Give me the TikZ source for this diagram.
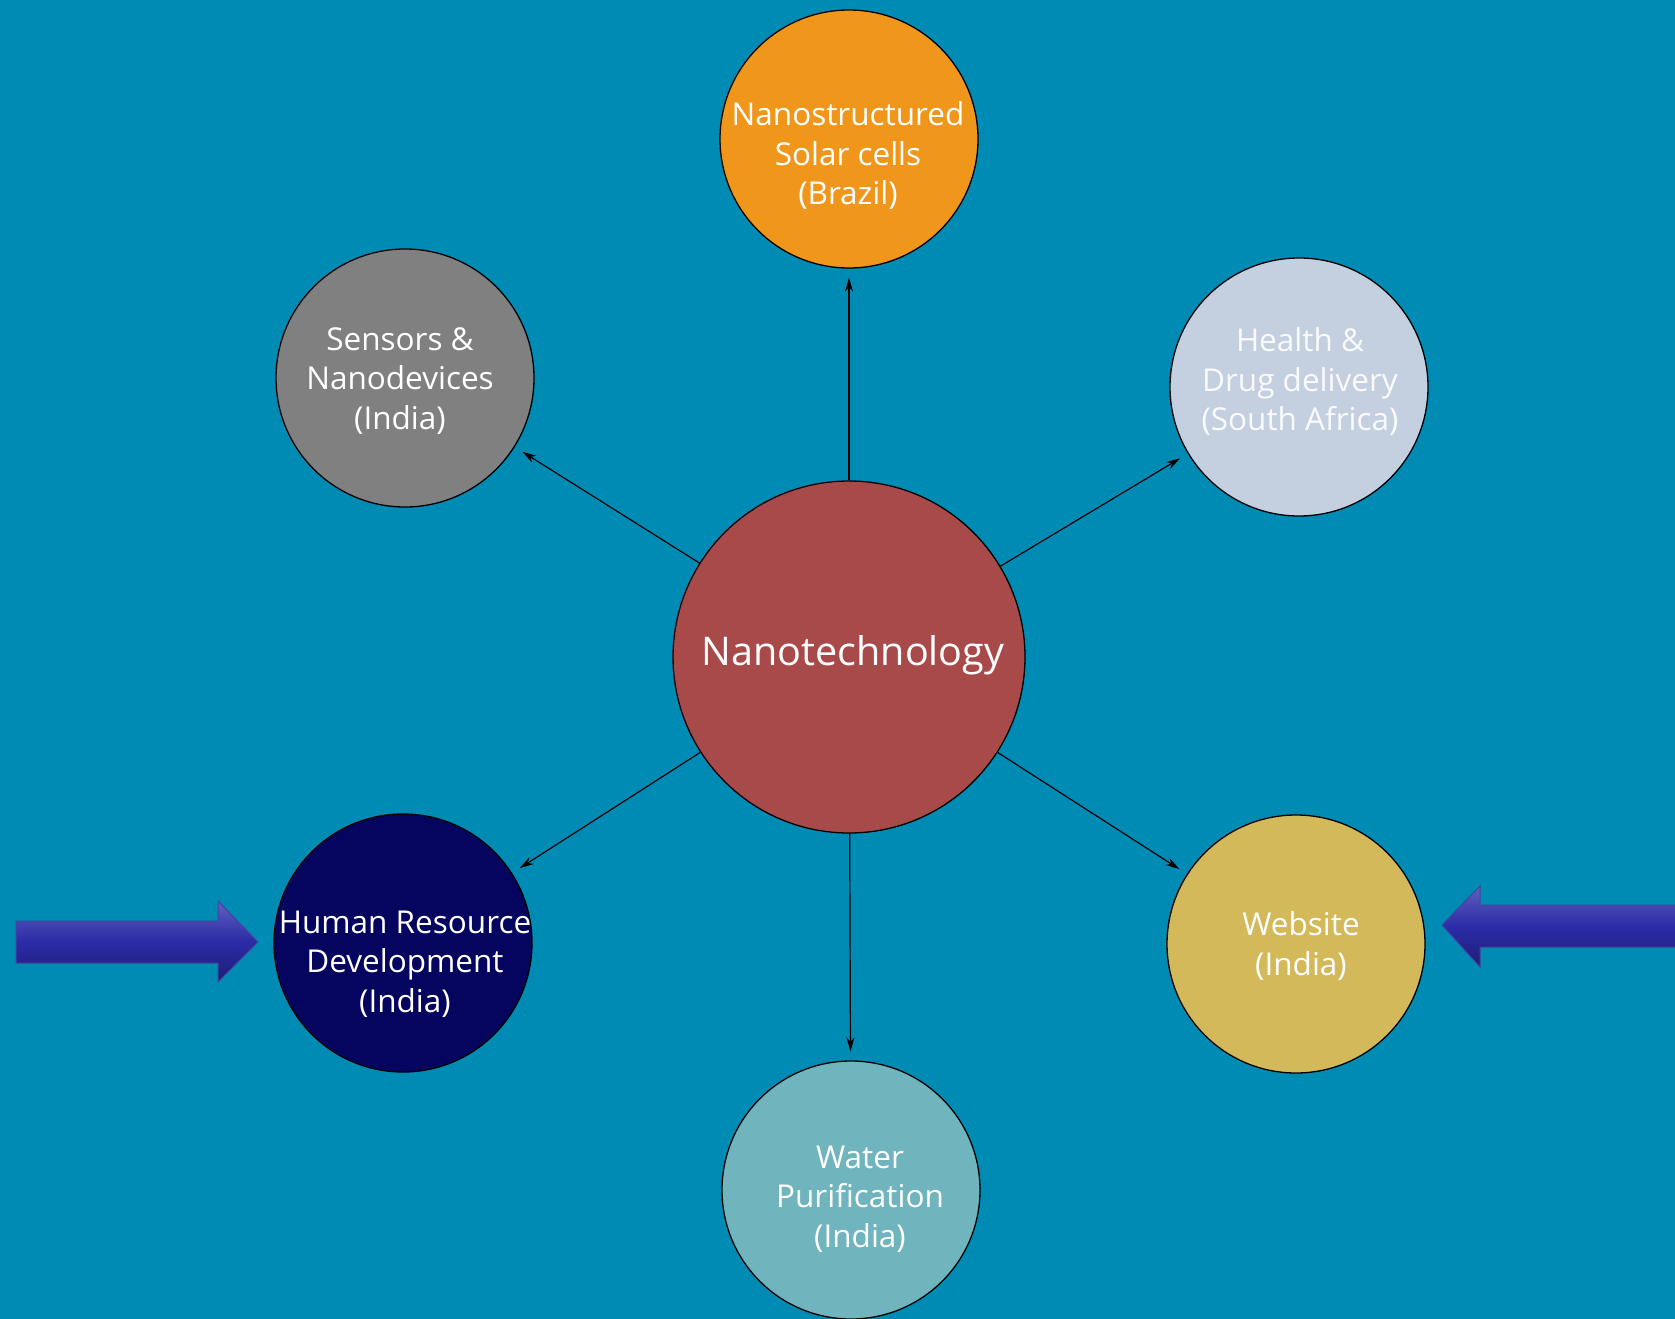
\documentclass[tikz,border=0pt]{standalone}
\usepackage{fontspec}
\setmainfont{Open Sans}
\usetikzlibrary{arrows.meta}
\definecolor{bg}{HTML}{008BB5}
\definecolor{cnano}{HTML}{A94A4A}
\definecolor{csolar}{HTML}{F0961A}
\definecolor{csens}{HTML}{808080}
\definecolor{chealth}{HTML}{C4CFE0}
\definecolor{chrd}{HTML}{050560}
\definecolor{cweb}{HTML}{D4B95A}
\definecolor{cwater}{HTML}{70B4BE}
\definecolor{barrow}{HTML}{2B2BA8}
\tikzset{
  bubble/.style={circle, draw=black, line width=1.3pt, minimum size=258pt, inner sep=0pt},
  btext/.style={text=white, align=center, inner sep=0pt, font=\fontsize{31.5}{39.5}\selectfont},
  link/.style={line width=1.2pt, -{Stealth[length=14pt,width=8pt]}, shorten >=9pt},
  bigarrow/.style={top color=barrow!75!white, bottom color=barrow!70!black, middle color=barrow, draw=barrow!70!gray, line width=1pt}
}
\begin{document}
\begin{tikzpicture}[x=1pt,y=-1pt]
\fill[bg] (0,0) rectangle (1675,1319);
\useasboundingbox (0,0) rectangle (1675,1319);
\node[bubble, fill=cnano, minimum size=352pt] (nano) at (849,657) {};
\node[bubble, fill=csolar] (solar) at (849,139) {};
\node[bubble, fill=csens] (sens) at (405,378) {};
\node[bubble, fill=chealth] (health) at (1299,387) {};
\node[bubble, fill=chrd] (hrd) at (403,943) {};
\node[bubble, fill=cweb] (web) at (1296,944) {};
\node[bubble, fill=cwater] (water) at (851,1190) {};
\node[btext, font=\fontsize{39.5}{46}\selectfont] (nanot) at (853,655) {Nanotechnology};
\node[btext] (solart) at (848,156) {Nanostructured\\Solar cells\\(Brazil)};
\node[btext] (senst) at (400,381) {Sensors \&\\Nanodevices\\(India)};
\node[btext, text=white!90!chealth] (healtht) at (1300,382) {Health \&\\Drug delivery\\(South Africa)};
\node[btext] (hrdt) at (405,964) {Human Resource\\Development\\(India)};
\node[btext] (webt) at (1301,946) {Website\\(India)};
\node[btext] (watert) at (860,1199) {Water\\Purification\\(India)};
\draw[link] (nano) -- (solar);
\draw[link] (nano) -- (sens);
\draw[link] (nano) -- (health);
\draw[link] (nano) -- (hrd);
\draw[link] (nano) -- (web);
\draw[link] (nano) -- (water);
\coordinate (ltip) at (258,942);
\coordinate (rtip) at (1442,925);
\draw[bigarrow] (16,921) -- (218,921) -- (218,901) -- (ltip) -- (218,982) -- (218,963) -- (16,963) -- cycle;
\draw[bigarrow] (1680,905) -- (1480,905) -- (1480,886) -- (rtip) -- (1480,967) -- (1480,947) -- (1680,947) -- cycle;
\end{tikzpicture}
\end{document}
